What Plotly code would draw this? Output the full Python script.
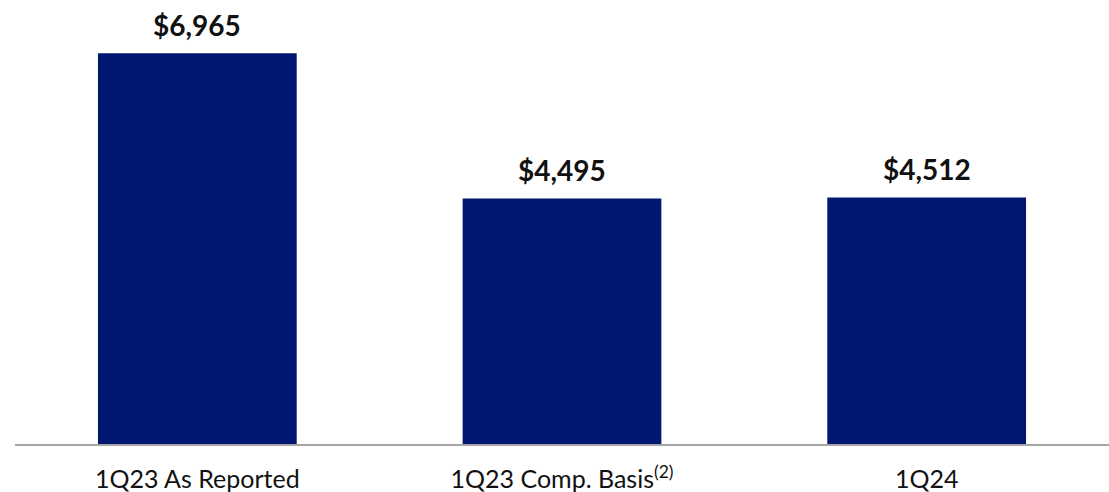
import plotly.graph_objects as go

# Quarterly values (in $ millions)
categories = ["1Q23 As Reported", "1Q23 Comp. Basis<sup>(2)</sup>", "1Q24"]
values = [6965, 4495, 4512]
value_labels = ["$6,965", "$4,495", "$4,512"]

BAR_COLOR = "#001871"
FONT = "Lato, 'Open Sans', sans-serif"

fig = go.Figure(
    go.Bar(
        x=categories,
        y=values,
        marker=dict(color=BAR_COLOR, line=dict(width=0)),
        width=0.545,
        hoverinfo="skip",
    )
)

for cat, val, lab in zip(categories, values, value_labels):
    fig.add_annotation(
        x=cat, y=val, text=f"<b>{lab}</b>",
        showarrow=False, yanchor="bottom", yshift=9,
        font=dict(family=FONT, size=28, color="#111111"),
    )

fig.update_layout(
    width=1109, height=492,
    margin=dict(l=15, r=0, t=20, b=48),
    paper_bgcolor="white", plot_bgcolor="white",
    showlegend=False,
    bargap=0.455,
    font=dict(family=FONT),
)
fig.update_xaxes(
    showline=True, linecolor="#a6a6a6", linewidth=2,
    showgrid=False, ticks="", ticklabelstandoff=12,
    automargin=False,
    tickfont=dict(family=FONT, size=25, color="#111111"),
)
fig.update_yaxes(visible=False, range=[322, 7528], showgrid=False)

fig.write_html("out.html")
